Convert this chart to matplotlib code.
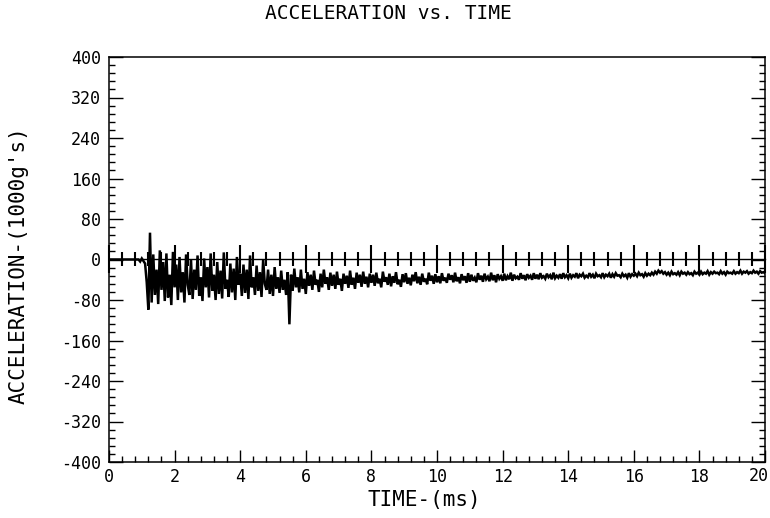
import numpy as np
import matplotlib
matplotlib.use("Agg")
import matplotlib.pyplot as plt
from matplotlib.ticker import MultipleLocator, NullFormatter

# ---------------- data ----------------
# quiet lead-in before impact
t_lead = [0.0, 0.90, 0.95, 1.00, 1.05]
a_lead = [0, 0, -4, 2, -3]

# high-amplitude section, 1.10 .. 8.00 ms
t_a_start, t_a_end = 1.10, 8.00
a_seg_a = [
    -8, -45, -99, 53, -85, 10, -70, -20, -88, 18,
    -60, -5, -82, 12, -75, -30, -90, 15, -55, -10,
    -80, 5, -65, -25, -85, 10, -50, -70, 0, -78,
    -20, -60, 8, -72, -35, -82, 2, -55, -15, -75,
    12, -62, -30, -80, -5, -68, -22, -77, 14, -58,
    -40, -74, -8, -65, -18, -80, 5, -50, -28, -72,
    -10, -66, -20, -78, 8, -55, -35, -70, -12, -62,
    -25, -74, 0, -48, -60, -20, -68, -30, -72, -15,
    -58, -35, -66, -22, -60, -40, -70, -25, -128, -30,
    -62, -18, -55, -35, -65, -20, -58, -38, -68, -25,
    -52, -30, -60, -22, -50, -40, -64, -28, -55, -20,
    -48, -35, -60, -26, -52, -30, -58, -24, -50, -38,
    -62, -28, -48, -32, -56, -22, -50, -36, -58, -26,
    -46, -30, -54, -24, -48, -34, -55, -28, -46,
]

# decaying section, 8.05 .. 20.0 ms
t_b_start, t_b_end = 8.05, 20.0
a_seg_b = [
    -30, -52, -26, -47, -38, -55, -24, -44, -35, -50, -28, -53, -33, -46, -25, -49, -40, -54, -29, -45,
    -27, -48, -36, -51, -30, -43, -25, -47, -34, -50, -28, -44, -38, -49, -26, -42, -32, -48, -29, -45,
    -33, -47, -27, -42, -36, -46, -28, -40, -31, -45, -26, -43, -35, -47, -29, -41, -33, -46, -27, -44,
    -30, -42, -36, -45, -27, -40, -32, -44, -28, -39, -34, -43, -26, -41, -31, -45, -29, -38, -33, -42,
    -28, -41, -33, -39, -26, -42, -30, -37, -34, -40, -27, -38, -31, -41, -29, -36, -32, -40, -27, -38,
    -30, -39, -27, -36, -33, -38, -28, -35, -31, -39, -26, -37, -32, -36, -29, -38, -27, -35, -31, -37,
    -28, -36, -31, -34, -27, -37, -30, -33, -28, -36, -32, -35, -27, -34, -30, -37, -28, -33, -31, -35,
    -27, -35, -30, -33, -28, -36, -29, -34, -27, -32, -31, -35, -28, -33, -30, -36, -27, -34, -29, -32,
    -28, -33, -26, -31, -29, -34, -27, -32, -28, -31, -26, -30, -24, -28, -22, -26, -23, -28, -25, -30,
    -26, -31, -24, -29, -27, -30, -25, -31, -24, -28, -26, -30, -25, -29, -27, -31, -24, -28, -26, -30,
    -24, -29, -26, -28, -23, -30, -25, -28, -24, -27, -26, -29, -23, -28, -25, -30, -24, -27, -26, -28,
    -23, -28, -25, -27, -22, -28, -24, -26, -23, -28, -25, -27, -22, -26, -24, -28, -23, -26, -25, -27,
]

title = "ACCELERATION vs. TIME"
xlabel = "TIME-(ms)"
ylabel = "ACCELERATION-(1000g's)"
xticks = [0, 2, 4, 6, 8, 10, 12, 14, 16, 18, 20]
yticks = [-400, -320, -240, -160, -80, 0, 80, 160, 240, 320, 400]

# ---------------- assemble series ----------------
t = np.concatenate([
    np.array(t_lead),
    np.linspace(t_a_start, t_a_end, len(a_seg_a)),
    np.linspace(t_b_start, t_b_end, len(a_seg_b)),
])
a = np.concatenate([np.array(a_lead), np.array(a_seg_a), np.array(a_seg_b)])

# ---------------- figure ----------------
plt.rcParams['font.family'] = ['DejaVu Sans Mono', 'DejaVu Sans']
plt.rcParams['axes.unicode_minus'] = False
fig = plt.figure(figsize=(7.7, 5.18), dpi=100)
ax = fig.add_axes([109 / 770, 1 - 462 / 518, (765 - 109) / 770, (462 - 57) / 518])

ax.plot(t, a, color='black', lw=1.8, solid_joinstyle='miter')

ax.set_xlim(0, 20)
ax.set_ylim(-400, 400)
ax.set_xticks(xticks)
# last label is drawn separately so it stays inside the figure
ax.set_xticklabels([str(v) for v in xticks[:-1]] + [""])
ax.set_yticks(yticks)
ax.xaxis.set_minor_locator(MultipleLocator(0.4))
ax.yaxis.set_minor_locator(MultipleLocator(16))

ax.tick_params(axis='x', which='both', direction='in', top=False, bottom=True,
               labelsize=12, pad=4, width=1)
ax.tick_params(axis='x', which='major', length=9)
ax.tick_params(axis='x', which='minor', length=4)
ax.tick_params(axis='y', which='both', direction='in', left=True, right=True,
               labelsize=12, pad=6, width=1)
ax.tick_params(axis='y', which='major', length=10)
ax.tick_params(axis='y', which='minor', length=4)
for s in ax.spines.values():
    s.set_linewidth(1.1)

# zero axis with crossing ticks
sec = ax.secondary_xaxis(0.5)
sec.set_xticks(xticks)
sec.xaxis.set_minor_locator(MultipleLocator(0.4))
sec.xaxis.set_major_formatter(NullFormatter())
sec.tick_params(axis='x', which='both', direction='inout', width=1.5)
sec.tick_params(axis='x', which='major', length=20)
sec.tick_params(axis='x', which='minor', length=10)
for s in sec.spines.values():
    s.set_linewidth(1.0)

fig.text(769 / 770, 1 - 476 / 518, str(xticks[-1]), ha='right', va='center', fontsize=12)
fig.text(0.505, 0.974, title, ha='center', va='center', fontsize=14)
fig.text(424 / 770, 1 - 500 / 518, xlabel, ha='center', va='center', fontsize=15)
fig.text(19 / 770, 1 - 265 / 518, ylabel, ha='center', va='center', rotation=90, fontsize=15)

fig.savefig("out.png", dpi=100)
